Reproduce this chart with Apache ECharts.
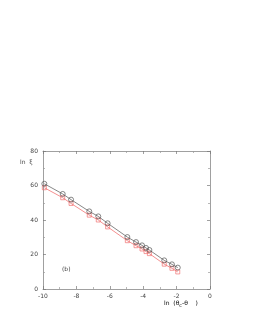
<!DOCTYPE html>
<html><head><meta charset="utf-8">
<script src="https://cdn.jsdelivr.net/npm/echarts@6/dist/echarts.min.js"></script>
<style>html,body{margin:0;padding:0;background:#fff}#c{width:253px;height:327px}</style>
</head><body><div id="c"></div>
<script>
const lnTheta = [-9.92, -8.82, -8.32, -7.23, -6.69, -6.13, -4.95, -4.43, -4.07, -3.83, -3.63, -2.74, -2.28, -1.93];
const lnXiCircle = [61.0, 55.1, 51.8, 45.0, 42.1, 38.1, 30.1, 27.2, 25.3, 23.8, 22.6, 16.6, 14.3, 12.4];
const lnXiSquare = [58.7, 52.9, 49.6, 42.8, 40.0, 36.0, 28.0, 25.1, 23.2, 21.7, 20.5, 14.4, 12.0, 9.9];
const xTicks = [-10, -8, -6, -4, -2, 0];
const yTicks = [0, 20, 40, 60, 80];

const toPairs = (xs, ys) => xs.map((x, i) => [x, ys[i]]);
const font = 'DejaVu Sans';
const axisCommon = () => ({
  axisLine: {show: true, onZero: false, lineStyle: {color: '#777', width: 0.7}},
  axisTick: {show: true, inside: true, length: 3, lineStyle: {color: '#777', width: 0.7}},
  minorTick: {show: true, splitNumber: 2, length: 2, lineStyle: {color: '#999', width: 0.7}},
  splitLine: {show: false}
});
const chart = echarts.init(document.getElementById('c'), null, {renderer: 'canvas'});
chart.setOption({
  animation: false,
  backgroundColor: '#fff',
  grid: {left: 43, right: 43, top: 151, bottom: 38},
  xAxis: [
    Object.assign({type: 'value', min: xTicks[0], max: xTicks[xTicks.length - 1], interval: 2, position: 'bottom',
      axisLabel: {fontSize: 6, color: '#444', fontFamily: font, margin: 4}}, axisCommon()),
    Object.assign({type: 'value', min: xTicks[0], max: xTicks[xTicks.length - 1], interval: 2, position: 'top',
      axisLabel: {show: false}}, axisCommon())
  ],
  yAxis: [
    Object.assign({type: 'value', min: yTicks[0], max: yTicks[yTicks.length - 1], interval: 20, position: 'left',
      axisLabel: {fontSize: 6, color: '#444', fontFamily: font, margin: 5}}, axisCommon()),
    Object.assign({type: 'value', min: yTicks[0], max: yTicks[yTicks.length - 1], interval: 20, position: 'right',
      axisLabel: {show: false}}, axisCommon())
  ],
  series: [
    {type: 'line', data: toPairs(lnTheta, lnXiSquare), symbol: 'rect', symbolSize: 4,
      itemStyle: {color: 'rgba(255,255,255,0)', borderColor: '#f07070', borderWidth: 0.7},
      lineStyle: {color: '#f06060', width: 0.7}, z: 2},
    {type: 'line', data: toPairs(lnTheta, lnXiCircle), symbol: 'circle', symbolSize: 5,
      itemStyle: {color: 'rgba(255,255,255,0)', borderColor: '#555', borderWidth: 0.7},
      lineStyle: {color: '#555', width: 0.7}, z: 3}
  ],
  graphic: [
    {type: 'text', left: 20, top: 159, style: {text: 'ln  ξ', fontSize: 6, fontFamily: font, fill: '#444'}},
    {type: 'text', left: 62, top: 266, style: {text: '(b)', fontSize: 6, fontFamily: font, fill: '#444'}},
    {type: 'text', left: 164, top: 300, style: {
      text: '{a|ln  (θ}{s|c}{a|-θ    )}',
      rich: {a: {fontSize: 6, fontFamily: font, color: '#444'},
             s: {fontSize: 5, fontFamily: font, color: '#444', padding: [6, 0, 0, 0]}}}}
  ]
});
</script></body></html>
